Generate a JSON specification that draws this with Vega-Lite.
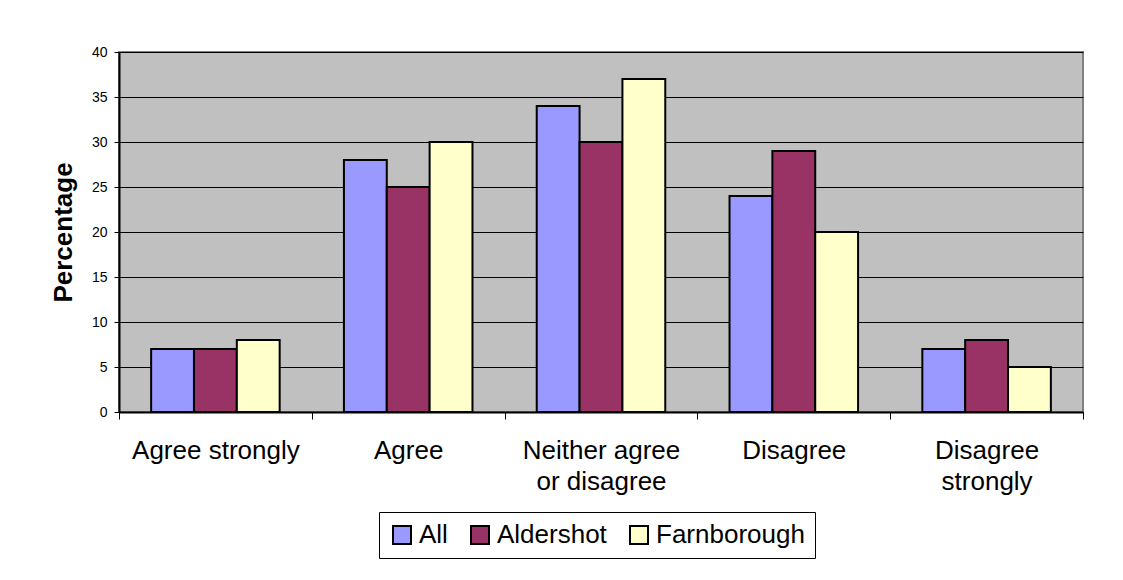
{
  "$schema": "https://vega.github.io/schema/vega-lite/v6.json",
  "width": 964,
  "height": 360,
  "autosize": {"type": "none"},
  "padding": {"left": 119, "top": 52, "right": 40, "bottom": 168},
  "background": "white",
  "config": {
    "font": "Liberation Sans",
    "view": {"fill": "#C0C0C0", "stroke": "#808080", "strokeWidth": 2}
  },
  "data": {
    "values": [
      {"response": "Agree strongly", "group": "All", "pct": 7},
      {"response": "Agree strongly", "group": "Aldershot", "pct": 7},
      {"response": "Agree strongly", "group": "Farnborough", "pct": 8},
      {"response": "Agree", "group": "All", "pct": 28},
      {"response": "Agree", "group": "Aldershot", "pct": 25},
      {"response": "Agree", "group": "Farnborough", "pct": 30},
      {"response": "Neither agree or disagree", "group": "All", "pct": 34},
      {"response": "Neither agree or disagree", "group": "Aldershot", "pct": 30},
      {"response": "Neither agree or disagree", "group": "Farnborough", "pct": 37},
      {"response": "Disagree", "group": "All", "pct": 24},
      {"response": "Disagree", "group": "Aldershot", "pct": 29},
      {"response": "Disagree", "group": "Farnborough", "pct": 20},
      {"response": "Disagree strongly", "group": "All", "pct": 7},
      {"response": "Disagree strongly", "group": "Aldershot", "pct": 8},
      {"response": "Disagree strongly", "group": "Farnborough", "pct": 5}
    ]
  },
  "mark": {"type": "bar", "stroke": "black", "strokeWidth": 2},
  "encoding": {
    "x": {
      "field": "response",
      "type": "nominal",
      "sort": ["Agree strongly", "Agree", "Neither agree or disagree", "Disagree", "Disagree strongly"],
      "scale": {"paddingInner": 0, "paddingOuter": 0},
      "axis": {
        "title": null,
        "labelAngle": 0,
        "labelFontSize": 26,
        "labelColor": "black",
        "labelPadding": 18,
        "labelLineHeight": 31,
        "labelBaseline": "top",
        "tickBand": "extent",
        "tickSize": 7,
        "tickColor": "black",
        "domainColor": "black",
        "domainWidth": 2,
        "labelExpr": "datum.value == 'Neither agree or disagree' ? ['Neither agree', 'or disagree'] : datum.value == 'Disagree strongly' ? ['Disagree', 'strongly'] : datum.value",
        "grid": false
      }
    },
    "xOffset": {
      "field": "group",
      "type": "nominal",
      "sort": ["All", "Aldershot", "Farnborough"],
      "scale": {"paddingInner": 0, "paddingOuter": 0.75}
    },
    "y": {
      "field": "pct",
      "type": "quantitative",
      "scale": {"domain": [0, 40], "nice": false},
      "axis": {
        "title": "Percentage",
        "titleFontSize": 26,
        "titleFontWeight": "bold",
        "titleColor": "black",
        "titlePadding": 15,
        "values": [0, 5, 10, 15, 20, 25, 30, 35, 40],
        "labelFontSize": 14,
        "labelColor": "black",
        "labelPadding": 7,
        "tickSize": 5,
        "tickColor": "black",
        "domainColor": "black",
        "domainWidth": 2,
        "grid": true,
        "gridColor": "black"
      }
    },
    "color": {
      "field": "group",
      "type": "nominal",
      "scale": {"domain": ["All", "Aldershot", "Farnborough"], "range": ["#9999FF", "#993366", "#FFFFCC"]},
      "legend": {
        "title": null,
        "orient": "none",
        "direction": "horizontal",
        "legendX": 260,
        "legendY": 460,
        "labelFontSize": 26,
        "labelColor": "black",
        "labelOffset": 4,
        "symbolType": "square",
        "symbolSize": 324,
        "symbolStrokeColor": "black",
        "symbolStrokeWidth": 2,
        "columnPadding": 19,
        "strokeColor": "black",
        "fillColor": "white",
        "padding": 10
      }
    }
  }
}
